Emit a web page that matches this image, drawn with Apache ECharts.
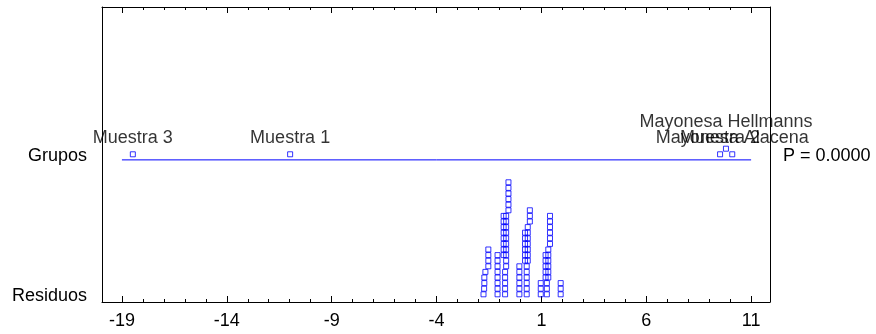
<!DOCTYPE html>
<html><head><meta charset="utf-8">
<script src="https://cdn.jsdelivr.net/npm/echarts@6/dist/echarts.min.js"></script>
<style>html,body{margin:0;padding:0;background:#fff}#c{width:876px;height:334px}</style>
</head><body><div id="c"></div>
<script>
// ---- data ----
const tickLabels = [-19, -14, -9, -4, 1, 6, 11];
const rowNames = ['Residuos', 'Grupos'];
const rowLabelLevels = [-0.3, 24.65];
const pText = 'P = 0.0000';

const groupNames  = ['Muestra 3', 'Muestra 1', 'Muestra 2', 'Mayonesa Hellmanns', 'Mayonesa Alacena'];
const groupValues = [-18.48, -10.98, 9.52, 9.80, 10.10];
const groupLevels = [25, 25, 25, 26, 25];
const groupLineLevel = 24;
const groupLineRange = [-19, 11];

const resValues = [
  -1.76,-1.73,-1.72,-1.72,-1.67,-1.53,-1.53,-1.53,-1.53,
  -1.09,-1.09,-1.09,-1.09,-1.09,-1.09,-1.09,-1.09,
  -0.73,-0.73,-0.73,-0.73,-0.73,
  -0.80,-0.80,-0.80,-0.80,-0.80,-0.80,-0.80,-0.80,
  -0.68,-0.68,-0.68,-0.68,-0.68,-0.68,-0.68,-0.68,-0.68,-0.68,
  -0.57,-0.57,-0.57,-0.57,-0.57,-0.57,
  -0.05,-0.05,-0.05,-0.05,-0.05,-0.05,
  0.30,0.30,0.30,0.30,0.30,0.30,
  0.22,0.22,0.22,0.22,0.22,0.22,
  0.35,0.35,0.35,0.35,0.35,0.35,0.35,
  0.45,0.45,0.45,
  0.97,0.97,0.97,
  1.26,1.26,1.26,
  1.20,1.20,1.20,1.20,1.20,
  1.33,1.33,1.33,1.33,1.33,1.33,
  1.41,1.41,1.41,1.41,1.41,1.41,
  1.92,1.92,1.92
];
const resLevels = [
  0,1,2,3,4,5,6,7,8,
  0,1,2,3,4,5,6,7,
  0,1,2,3,4,
  7,8,9,10,11,12,13,14,
  5,6,7,8,9,10,11,12,13,14,
  15,16,17,18,19,20,
  0,1,2,3,4,5,
  0,1,2,3,4,5,
  6,7,8,9,10,11,
  6,7,8,9,10,11,12,
  13,14,15,
  0,1,2,
  0,1,2,
  3,4,5,6,7,
  3,4,5,6,7,8,
  9,10,11,12,13,14,
  0,1,2
];

// ---- chart ----
const FONT = 'Liberation Sans';
const BLUE = '#0000ff';
const minorTicks = [];
for (let v = tickLabels[0]; v <= tickLabels[tickLabels.length - 1]; v++) minorTicks.push(v);

const xBase = { type: 'value', min: -19.95, max: 11.9, splitLine: { show: false } };
const yBase = { type: 'value', min: -1.375, max: 51.3, splitLine: { show: false }, axisTick: { show: false } };

const chart = echarts.init(document.getElementById('c'), null, { renderer: 'canvas' });
chart.setOption({
  animation: false,
  backgroundColor: '#fff',
  grid: { left: 102, right: 106, top: 7, bottom: 32, containLabel: false },
  xAxis: [
    Object.assign({}, xBase, {
      position: 'bottom',
      axisLine: { show: true, onZero: false, lineStyle: { color: '#000', width: 1 } },
      axisTick: { show: true, inside: true, length: 6, customValues: tickLabels, lineStyle: { color: '#000' } },
      axisLabel: { show: true, customValues: tickLabels, color: '#000', fontFamily: FONT, fontSize: 18, margin: 10 }
    }),
    Object.assign({}, xBase, {
      position: 'bottom',
      axisLine: { show: false, onZero: false },
      axisTick: { show: true, inside: true, length: 3, customValues: minorTicks, lineStyle: { color: '#000' } },
      axisLabel: { show: false }
    }),
    Object.assign({}, xBase, {
      position: 'top',
      axisLine: { show: true, onZero: false, lineStyle: { color: '#000', width: 1 } },
      axisTick: { show: true, inside: true, length: 6, customValues: tickLabels, lineStyle: { color: '#000' } },
      axisLabel: { show: false }
    }),
    Object.assign({}, xBase, {
      position: 'top',
      axisLine: { show: false, onZero: false },
      axisTick: { show: true, inside: true, length: 3, customValues: minorTicks, lineStyle: { color: '#000' } },
      axisLabel: { show: false }
    })
  ],
  yAxis: [
    Object.assign({}, yBase, {
      position: 'left',
      axisLine: { show: true, onZero: false, lineStyle: { color: '#000', width: 1 } },
      axisLabel: {
        show: true, customValues: rowLabelLevels, color: '#000', fontFamily: FONT, fontSize: 18, margin: 15,
        formatter: v => (v < 10 ? rowNames[0] : rowNames[1])
      }
    }),
    Object.assign({}, yBase, {
      position: 'right',
      axisLine: { show: true, onZero: false, lineStyle: { color: '#000', width: 1 } },
      axisLabel: {
        show: true, customValues: [rowLabelLevels[1]], color: '#000', fontFamily: FONT, fontSize: 18, margin: 13,
        formatter: () => pText
      }
    })
  ],
  series: [
    {
      type: 'line', xAxisIndex: 0, yAxisIndex: 0,
      data: groupLineRange.map(x => [x, groupLineLevel]),
      symbol: 'none', lineStyle: { color: BLUE, width: 1 }, silent: true
    },
    {
      type: 'scatter', xAxisIndex: 0, yAxisIndex: 0,
      symbol: 'rect', symbolSize: 5,
      itemStyle: { color: 'rgba(0,0,0,0)', borderColor: BLUE, borderWidth: 1 },
      data: groupValues.map((v, i) => ({
        value: [v, groupLevels[i]],
        name: groupNames[i],
        label: {
          show: true, position: 'top', formatter: groupNames[i],
          distance: groupLevels[i] > 25 ? 15 : 4,
          color: '#000', fontFamily: FONT, fontSize: 18
        }
      }))
    },
    {
      type: 'scatter', xAxisIndex: 0, yAxisIndex: 0,
      symbol: 'rect', symbolSize: 5,
      itemStyle: { color: 'rgba(0,0,0,0)', borderColor: BLUE, borderWidth: 1 },
      data: resValues.map((v, i) => [v, resLevels[i]])
    }
  ]
});
</script></body></html>
